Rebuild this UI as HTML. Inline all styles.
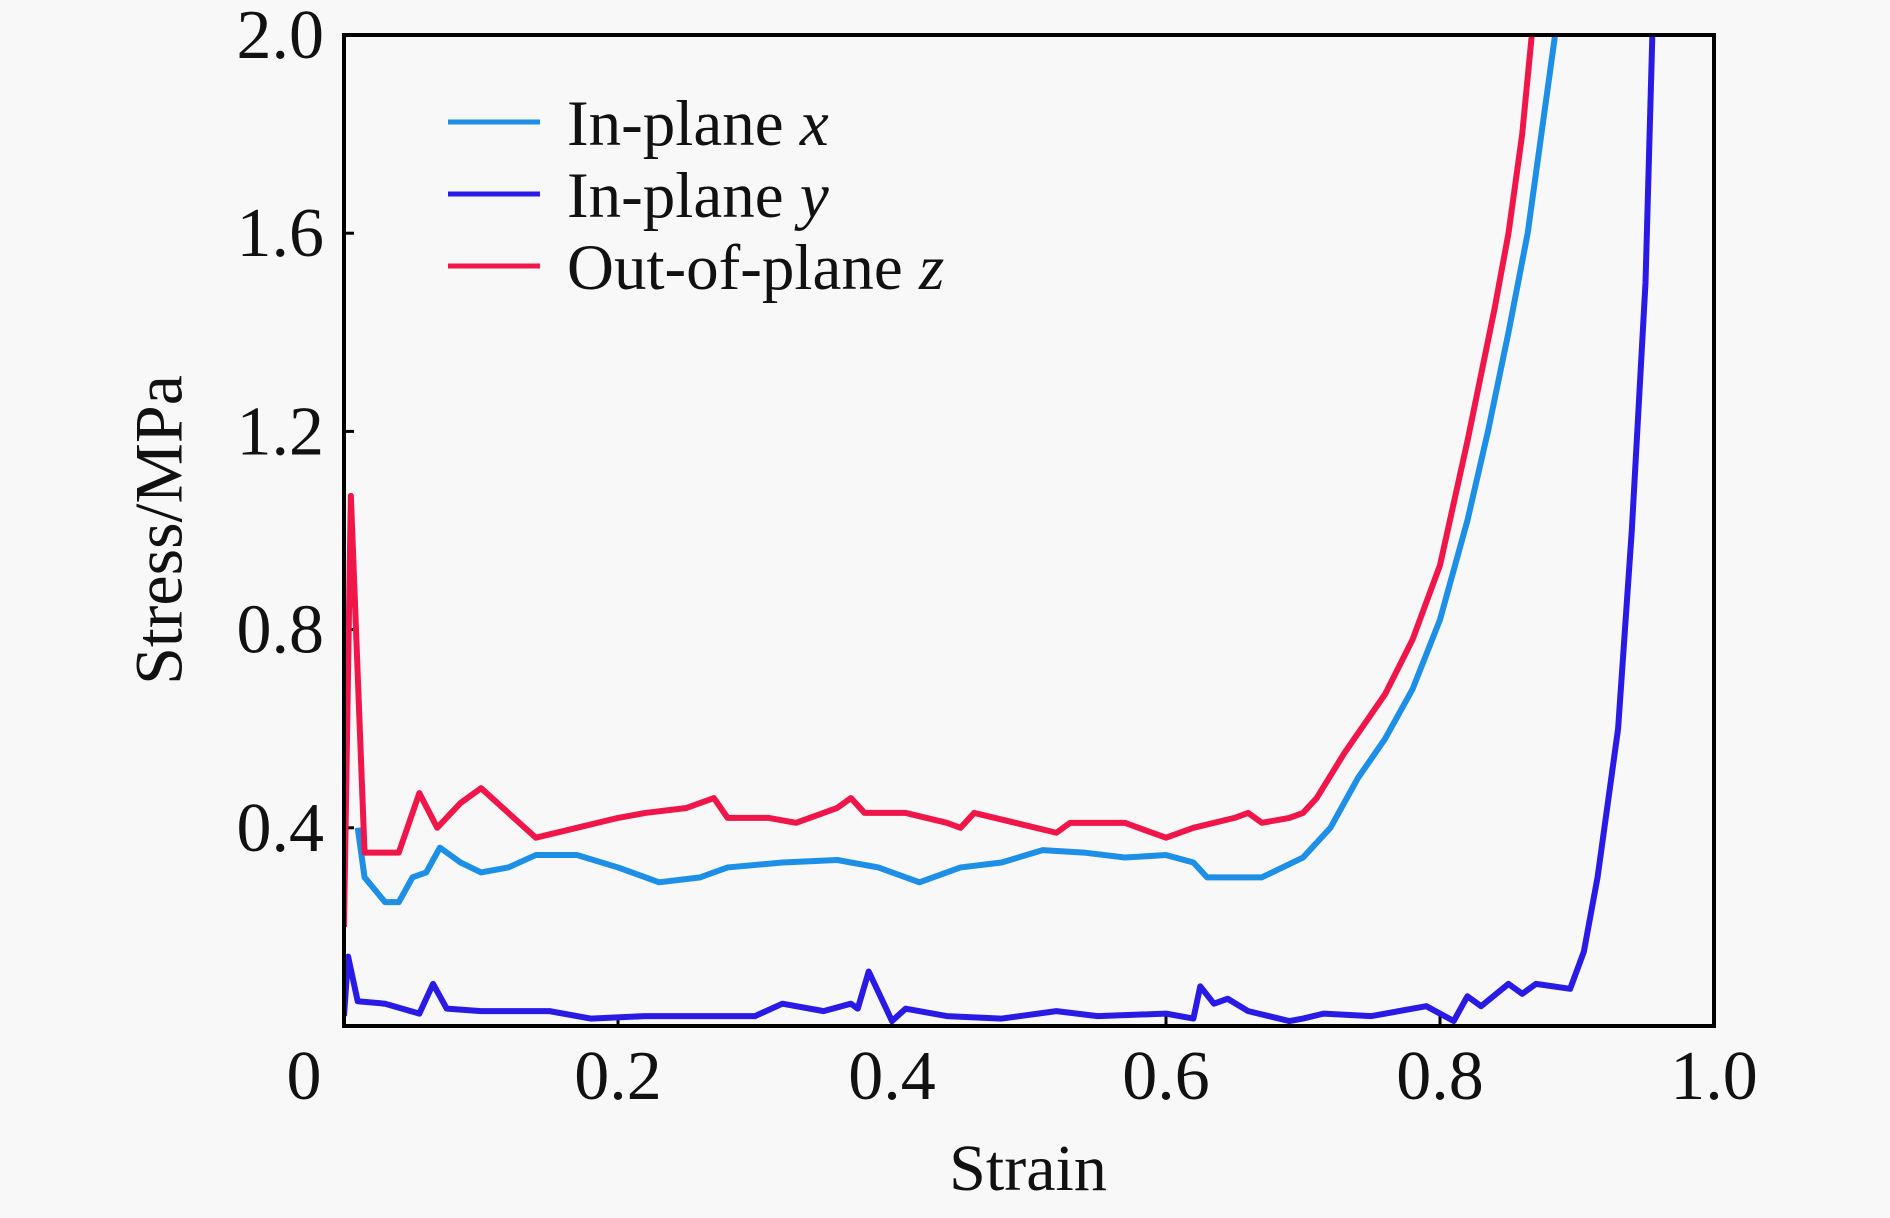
<!DOCTYPE html>
<html><head><meta charset="utf-8"><style>
html,body{margin:0;padding:0;background:#f8f8f8;}
svg text{font-family:"Liberation Serif",serif;fill:#111;}
</style></head><body>
<svg width="1890" height="1213" viewBox="0 0 1890 1213">
<defs><clipPath id="pc"><rect x="344" y="35" width="1370" height="991"/></clipPath></defs>
<g id="axes"></g>
<g id="series" clip-path="url(#pc)"></g>
<rect x="344" y="35" width="1370" height="991" fill="none" stroke="#000" stroke-width="4"/>
<text x="166" y="530" font-size="68" text-anchor="middle" transform="rotate(-90 166 530)" dominant-baseline="middle">Stress/MPa</text>
<text x="1028" y="1190" font-size="66" text-anchor="middle">Strain</text>
<g>
<line x1="448" y1="122" x2="540" y2="122" stroke="#1e8fe6" stroke-width="5"/>
<text x="567" y="145" font-size="65">In-plane <tspan font-style="italic">x</tspan></text>
<line x1="448" y1="194" x2="540" y2="194" stroke="#2a1ae6" stroke-width="5"/>
<text x="567" y="217" font-size="65">In-plane <tspan font-style="italic">y</tspan></text>
<line x1="448" y1="266" x2="540" y2="266" stroke="#f0164a" stroke-width="5"/>
<text x="567" y="289" font-size="65">Out-of-plane <tspan font-style="italic">z</tspan></text>
</g>
</svg>
<script>
const xTicks=[0,0.2,0.4,0.6,0.8,1.0];
const xTickLabels=["0","0.2","0.4","0.6","0.8","1.0"];
const yTicks=[0.4,0.8,1.2,1.6,2.0];
const yTickLabels=["0.4","0.8","1.2","1.6","2.0"];
const strainX=[0.01,0.015,0.03,0.04,0.05,0.06,0.07,0.085,0.1,0.12,0.14,0.17,0.2,0.23,0.26,0.28,0.32,0.36,0.39,0.42,0.45,0.48,0.51,0.54,0.57,0.6,0.62,0.63,0.67,0.7,0.72,0.74,0.76,0.78,0.8,0.82,0.835,0.85,0.864,0.875,0.884];
const stressX=[0.4,0.3,0.25,0.25,0.3,0.31,0.36,0.33,0.31,0.32,0.345,0.345,0.32,0.29,0.3,0.32,0.33,0.335,0.32,0.29,0.32,0.33,0.355,0.35,0.34,0.345,0.33,0.3,0.3,0.34,0.4,0.5,0.58,0.68,0.82,1.02,1.2,1.4,1.6,1.82,2.0];
const strainY=[0,0.003,0.01,0.03,0.055,0.065,0.075,0.1,0.15,0.18,0.22,0.3,0.32,0.35,0.37,0.375,0.383,0.4,0.41,0.44,0.48,0.52,0.55,0.6,0.62,0.625,0.635,0.645,0.66,0.69,0.7,0.715,0.75,0.79,0.81,0.82,0.83,0.85,0.86,0.87,0.895,0.905,0.915,0.93,0.94,0.95,0.955];
const stressY=[0.02,0.14,0.05,0.045,0.025,0.085,0.035,0.03,0.03,0.015,0.02,0.02,0.045,0.03,0.045,0.035,0.11,0.01,0.035,0.02,0.015,0.03,0.02,0.025,0.015,0.08,0.045,0.055,0.03,0.01,0.015,0.025,0.02,0.04,0.01,0.06,0.04,0.085,0.065,0.085,0.075,0.15,0.3,0.6,1.0,1.5,2.0];
const strainZ=[0,0.005,0.015,0.04,0.055,0.068,0.085,0.1,0.12,0.14,0.17,0.2,0.22,0.25,0.27,0.28,0.31,0.33,0.36,0.37,0.38,0.41,0.44,0.45,0.46,0.49,0.52,0.53,0.56,0.57,0.6,0.62,0.65,0.66,0.67,0.69,0.7,0.71,0.73,0.76,0.78,0.8,0.82,0.84,0.85,0.86,0.867];
const stressZ=[0.2,1.07,0.35,0.35,0.47,0.4,0.45,0.48,0.43,0.38,0.4,0.42,0.43,0.44,0.46,0.42,0.42,0.41,0.44,0.46,0.43,0.43,0.41,0.4,0.43,0.41,0.39,0.41,0.41,0.41,0.38,0.4,0.42,0.43,0.41,0.42,0.43,0.46,0.55,0.67,0.78,0.93,1.18,1.45,1.6,1.8,2.0];
const X0=344,XW=1370,Y0=1026,YH=991;
function sx(v){return X0+v*XW;}
function sy(v){return Y0-v/2*YH;}
const NS='http://www.w3.org/2000/svg';
const axes=document.getElementById('axes');
xTicks.forEach((t,i)=>{
 const l=document.createElementNS(NS,'line');
 l.setAttribute('x1',sx(t));l.setAttribute('x2',sx(t));l.setAttribute('y1',Y0);l.setAttribute('y2',Y0-10);
 l.setAttribute('stroke','#000');l.setAttribute('stroke-width','3');
 
 
 axes.appendChild(l);
 const tx=document.createElementNS(NS,'text');
 tx.setAttribute('x',i===0?sx(t)-40:sx(t));tx.setAttribute('y',1099);
 tx.setAttribute('font-size','70');tx.setAttribute('text-anchor','middle');
 tx.textContent=xTickLabels[i];
 
 
 axes.appendChild(tx);
});
yTicks.forEach((t,i)=>{
 const l=document.createElementNS(NS,'line');
 l.setAttribute('x1',X0);l.setAttribute('x2',X0+10);l.setAttribute('y1',sy(t));l.setAttribute('y2',sy(t));
 l.setAttribute('stroke','#000');l.setAttribute('stroke-width','3');
 
 
 axes.appendChild(l);
 const tx=document.createElementNS(NS,'text');
 tx.setAttribute('x',324);tx.setAttribute('y',sy(t)+23);
 tx.setAttribute('font-size','70');tx.setAttribute('text-anchor','end');
 tx.textContent=yTickLabels[i];
 
 
 axes.appendChild(tx);
});
const g=document.getElementById('series');
function draw(xs,ys,color,name){
 const p=document.createElementNS(NS,'polyline');
 p.setAttribute('points',xs.map((x,i)=>sx(x)+','+sy(ys[i])).join(' '));
 p.setAttribute('fill','none');p.setAttribute('stroke',color);p.setAttribute('stroke-width','6');
 p.setAttribute('stroke-linejoin','round');
 
 
 g.appendChild(p);
}
draw(strainY,stressY,'#2a1ae6','line-in-plane-y');
draw(strainX,stressX,'#1e8fe6','line-in-plane-x');
draw(strainZ,stressZ,'#f0164a','line-out-of-plane-z');
</script>
</body></html>
